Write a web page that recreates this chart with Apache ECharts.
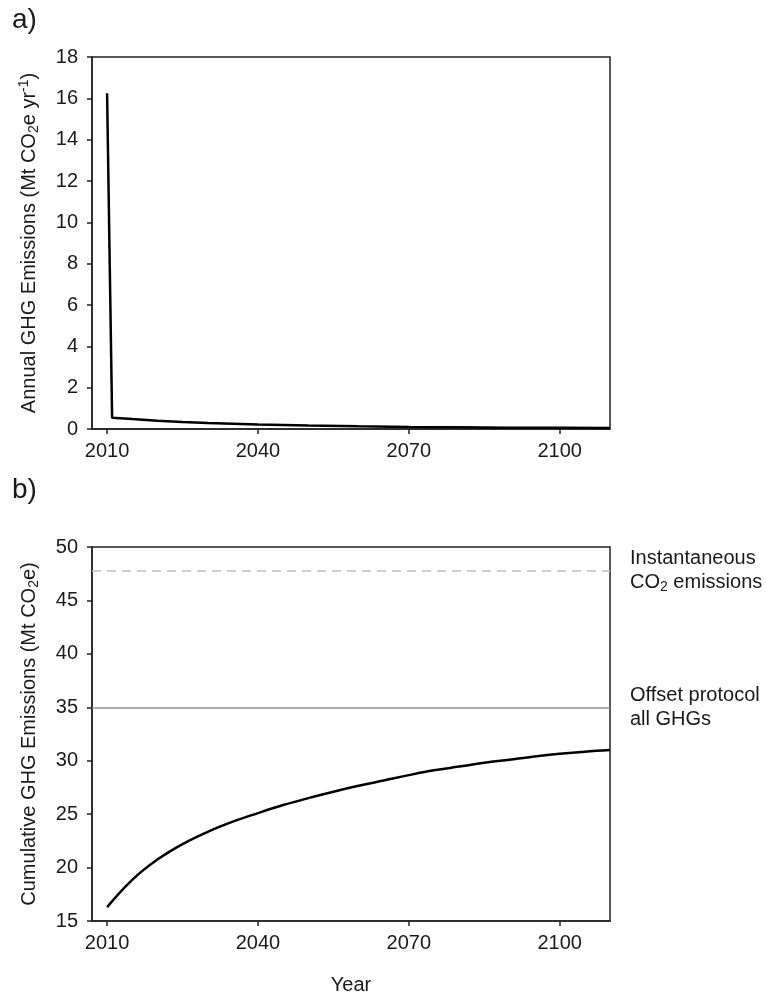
<!DOCTYPE html>
<html>
<head>
<meta charset="utf-8">
<script src="https://cdn.jsdelivr.net/npm/echarts@6/dist/echarts.min.js"></script>
<style>
html,body{margin:0;padding:0;background:#fff;}
#chart{width:766px;height:996px;}
</style>
</head>
<body>
<div id="chart"></div>
<script>
// ---- data ----
const yearsAnnual = [2010, 2011, 2015, 2020, 2025, 2030, 2040, 2050, 2060, 2070, 2080, 2090, 2100, 2110];
const annualEmissions = [16.25, 0.55, 0.48, 0.40, 0.34, 0.29, 0.22, 0.17, 0.13, 0.10, 0.08, 0.065, 0.055, 0.045];

const yearsCumulative = [2010, 2015, 2020, 2025, 2030, 2035, 2040, 2045, 2050, 2055, 2060, 2065, 2070, 2075, 2080, 2085, 2090, 2095, 2100, 2105, 2110];
const cumulativeEmissions = [16.3, 18.85, 20.75, 22.2, 23.35, 24.3, 25.1, 25.85, 26.5, 27.1, 27.65, 28.15, 28.65, 29.1, 29.45, 29.8, 30.1, 30.4, 30.65, 30.85, 31.0];

const xTickYears = [2010, 2040, 2070, 2100];
const instantaneousCO2 = 47.8;
const offsetProtocolAllGHGs = 35;

// ---- chart ----
const FONT = '"Liberation Sans", Arial, sans-serif';
const TXT = '#1a1a1a';
const FS = 20;
const rich = {
  n: {fontSize: FS, fontFamily: FONT, color: TXT, lineHeight: 24},
  sub: {fontSize: 14, fontFamily: FONT, color: TXT, lineHeight: 12, verticalAlign: 'bottom'},
  sup: {fontSize: 14, fontFamily: FONT, color: TXT, lineHeight: 12, verticalAlign: 'top'}
};

function pairs(xs, ys) { return xs.map((x, i) => [x, ys[i]]); }

const axisLineStyle = {color: '#222', width: 1.5};
function xAxis(gridIndex, withName) {
  return {
    type: 'value', gridIndex, min: 2007, max: 2110,
    axisLine: {show: true, lineStyle: axisLineStyle},
    axisTick: {show: true, length: 5, lineStyle: axisLineStyle, customValues: xTickYears},
    axisLabel: {customValues: xTickYears, fontSize: FS, fontFamily: FONT, color: TXT, margin: 12,
      formatter: v => String(Math.round(v))},
    splitLine: {show: false},
    name: withName ? 'Year' : '',
    nameLocation: 'middle', nameGap: 54,
    nameTextStyle: {fontSize: FS, fontFamily: FONT, color: TXT}
  };
}
function yAxis(gridIndex, min, max, interval, name, nameGap) {
  return {
    type: 'value', gridIndex, min, max, interval,
    axisLine: {show: true, lineStyle: axisLineStyle},
    axisTick: {show: true, length: 5, lineStyle: axisLineStyle},
    axisLabel: {fontSize: FS, fontFamily: FONT, color: TXT, margin: 14},
    splitLine: {show: false},
    name, nameLocation: 'middle', nameGap, nameRotate: 90,
    nameTextStyle: {rich}
  };
}

const chart = echarts.init(document.getElementById('chart'), null, {renderer: 'canvas'});
chart.setOption({
  animation: false,
  backgroundColor: '#fff',
  graphic: [
    {type: 'text', left: 12, top: 6, style: {text: 'a)', fontSize: 28, fontFamily: FONT, fill: TXT}},
    {type: 'text', left: 12, top: 476, style: {text: 'b)', fontSize: 28, fontFamily: FONT, fill: TXT}}
  ],
  grid: [
    {left: 92, top: 57, width: 518, height: 372, show: true, borderColor: '#222', borderWidth: 1.5, backgroundColor: 'transparent'},
    {left: 92, top: 547, width: 518, height: 374, show: true, borderColor: '#222', borderWidth: 1.5, backgroundColor: 'transparent'}
  ],
  xAxis: [xAxis(0, false), xAxis(1, true)],
  yAxis: [
    yAxis(0, 0, 18, 2, '{n|Annual GHG Emissions (Mt CO}{sub|2}{n|e yr}{sup|-1}{n|)}', 51),
    yAxis(1, 15, 50, 5, '{n|Cumulative GHG Emissions (Mt CO}{sub|2}{n|e)}', 51)
  ],
  series: [
    {
      type: 'line', xAxisIndex: 0, yAxisIndex: 0,
      data: pairs(yearsAnnual, annualEmissions),
      smooth: false, showSymbol: false, silent: true,
      lineStyle: {color: '#000', width: 2.5}
    },
    {
      type: 'line', xAxisIndex: 1, yAxisIndex: 1,
      data: pairs(yearsCumulative, cumulativeEmissions),
      smooth: 0.4, showSymbol: false, silent: true,
      lineStyle: {color: '#000', width: 2.5},
      markLine: {
        silent: true, symbol: 'none', animation: false,
        data: [
          {
            yAxis: instantaneousCO2,
            lineStyle: {color: '#bdbdbd', width: 1.5, type: [9, 6]},
            label: {show: true, position: 'end', distance: 20, align: 'left',
              formatter: '{n|Instantaneous}\n{n|CO}{sub|2}{n| emissions}', rich}
          },
          {
            yAxis: offsetProtocolAllGHGs,
            lineStyle: {color: '#8f8f8f', width: 1.5, type: 'solid'},
            label: {show: true, position: 'end', distance: 20, align: 'left',
              formatter: '{n|Offset protocol}\n{n|all GHGs}', rich}
          }
        ]
      }
    }
  ]
});
</script>
</body>
</html>
